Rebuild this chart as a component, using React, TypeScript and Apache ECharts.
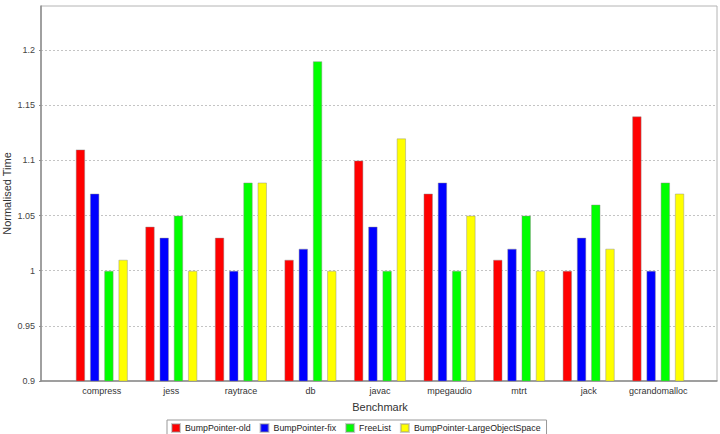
import React, { useEffect, useRef } from "react";
import * as echarts from "echarts";

// Benchmarks on the category axis
const categories = [
  "compress",
  "jess",
  "raytrace",
  "db",
  "javac",
  "mpegaudio",
  "mtrt",
  "jack",
  "gcrandomalloc",
];

// Normalised run times per allocator
const bumpPointerOld = [1.11, 1.04, 1.03, 1.01, 1.1, 1.07, 1.01, 1.0, 1.14];
const bumpPointerFix = [1.07, 1.03, 1.0, 1.02, 1.04, 1.08, 1.02, 1.03, 1.0];
const freeList = [1.0, 1.05, 1.08, 1.19, 1.0, 1.0, 1.05, 1.06, 1.08];
const bumpPointerLOS = [1.01, 1.0, 1.08, 1.0, 1.12, 1.05, 1.0, 1.02, 1.07];

const seriesNames = [
  "BumpPointer-old",
  "BumpPointer-fix",
  "FreeList",
  "BumpPointer-LargeObjectSpace",
];
const seriesColors = ["#ff0000", "#0000ff", "#00ff00", "#ffff00"];

// Value axis range and step
const yMin = 0.9;
const yMax = 1.24;
const yStep = 0.05;

const FONT = "'Liberation Sans', Arial, sans-serif";

export default function App() {
  const ref = useRef<HTMLDivElement>(null);

  useEffect(() => {
    if (!ref.current) return;
    const chart = echarts.init(ref.current, undefined, { renderer: "svg" });
    const values = [bumpPointerOld, bumpPointerFix, freeList, bumpPointerLOS];

    chart.setOption({
      animation: false,
      backgroundColor: "#ffffff",
      textStyle: { fontFamily: FONT },
      grid: [
        {
          left: 41,
          right: 3,
          top: 6,
          bottom: 53,
          outerBoundsMode: "none",
          containLabel: false,
          show: true,
          borderColor: "#b4b4b4",
          borderWidth: 1,
          backgroundColor: "#ffffff",
        },
        {
          left: 67,
          right: 27,
          top: 6,
          bottom: 53,
          outerBoundsMode: "none",
          containLabel: false,
        },
      ],
      xAxis: [
        {
          gridIndex: 0,
          type: "value",
          min: 0,
          max: 1,
          axisLine: { show: true, onZero: false, lineStyle: { color: "#8c8c8c", width: 1.5 } },
          axisTick: { show: false },
          axisLabel: { show: false },
          splitLine: { show: false },
        },
        {
          gridIndex: 1,
          type: "category",
          data: categories,
          axisLine: { show: false },
          axisTick: { show: false },
          axisLabel: { interval: 0, fontSize: 9, color: "#333", margin: 5, fontFamily: FONT },
          name: "Benchmark",
          nameLocation: "middle",
          nameGap: 20,
          nameMoveOverlap: false,
          nameTextStyle: { fontSize: 11, color: "#333", fontFamily: FONT },
        },
      ],
      yAxis: [
        {
          gridIndex: 0,
          type: "value",
          min: yMin,
          max: yMax,
          interval: yStep,
          axisLine: { show: true, lineStyle: { color: "#8c8c8c", width: 1.5 } },
          axisTick: { show: true, length: 2, lineStyle: { color: "#8c8c8c" } },
          axisLabel: {
            fontSize: 9,
            color: "#444",
            margin: 6,
            showMaxLabel: false,
            fontFamily: FONT,
          },
          splitLine: {
            show: true,
            showMinLine: false,
            showMaxLine: false,
            lineStyle: { color: "#c4c4c4", type: [2, 2], width: 1 },
          },
          name: "Normalised Time",
          nameLocation: "middle",
          nameGap: 29,
          nameMoveOverlap: false,
          nameTextStyle: { fontSize: 11, color: "#333", fontFamily: FONT },
        },
        {
          gridIndex: 1,
          type: "value",
          min: yMin,
          max: yMax,
          show: false,
          splitLine: { show: false },
        },
      ],
      legend: {
        data: seriesNames,
        left: 167,
        top: 420,
        orient: "horizontal",
        icon: "rect",
        itemWidth: 8,
        itemHeight: 8,
        itemGap: 9,
        padding: [3, 6, 6, 4],
        borderColor: "#999",
        borderWidth: 1,
        borderRadius: 0,
        textStyle: { fontSize: 8.8, color: "#222", fontFamily: FONT },
      },
      series: seriesNames.map((name, i) => ({
        name,
        type: "bar",
        xAxisIndex: 1,
        yAxisIndex: 1,
        data: values[i],
        barGap: "50%",
        barCategoryGap: "25%",
        itemStyle: {
          color: seriesColors[i],
          borderColor: "rgba(140,140,140,0.45)",
          borderWidth: 1,
        },
      })),
    });

    return () => chart.dispose();
  }, []);

  return (
    <div
      ref={ref}
      style={{ position: "fixed", left: 0, top: 0, width: 720, height: 434 }}
    />
  );
}
